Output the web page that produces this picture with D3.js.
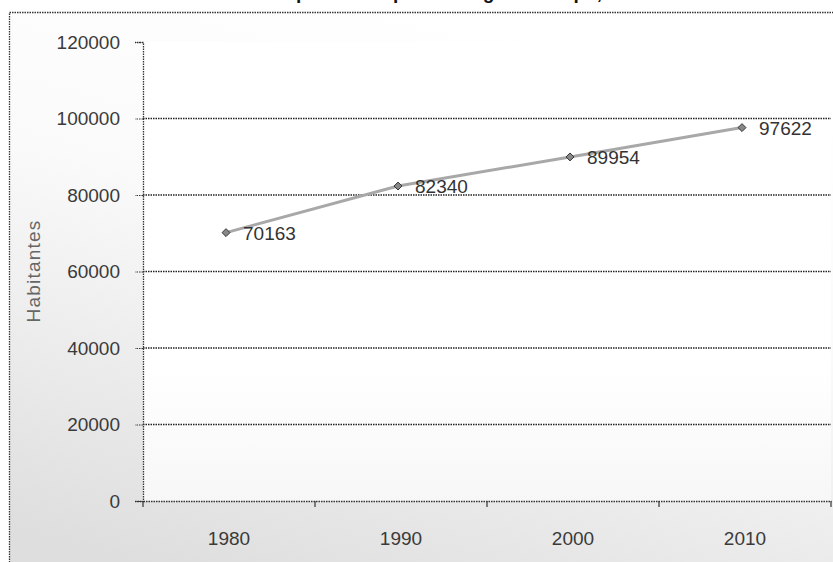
<!DOCTYPE html>
<html><head><meta charset="utf-8">
<script src="https://cdn.jsdelivr.net/npm/d3@7/dist/d3.min.js"></script>
<style>body{margin:0;background:#fff;overflow:hidden}</style>
</head><body>
<svg id="c" width="833" height="562"></svg>
<script>
const years = ["1980", "1990", "2000", "2010"];
const population = [70163, 82340, 89954, 97622];
const yTicks = [0, 20000, 40000, 60000, 80000, 100000, 120000];
const yTitle = "Habitantes";
const chartTitle = "Número de habitantes por município ao longo do tempo, 1980-2010";

const FONT = "Liberation Sans, Arial, sans-serif";
const svg = d3.select("#c");
const defs = svg.append("defs");
const grad = defs.append("linearGradient").attr("id","bg").attr("x1","0.6").attr("y1","0").attr("x2","0.2").attr("y2","1");
grad.append("stop").attr("offset","0").attr("stop-color","#ffffff");
grad.append("stop").attr("offset","0.4").attr("stop-color","#fafafa");
grad.append("stop").attr("offset","1").attr("stop-color","#dedede");
const grad2 = defs.append("linearGradient").attr("id","pbg").attr("x1","0").attr("y1","0").attr("x2","0").attr("y2","1");
grad2.append("stop").attr("offset","0").attr("stop-color","#ffffff");
grad2.append("stop").attr("offset","0.7").attr("stop-color","#ffffff");
grad2.append("stop").attr("offset","1").attr("stop-color","#f7f7f7");

// chart area
svg.append("rect").attr("x",9.5).attr("y",12.5).attr("width",840).attr("height",560)
  .attr("fill","url(#bg)").attr("stroke","#333").attr("stroke-width",1.3).attr("stroke-dasharray","1.5,1");

// title (cut off at the top edge as in the original: only descenders show)
const title = svg.append("text").attr("x",92).attr("y",-1).attr("text-anchor","start")
  .attr("font-family",FONT).attr("font-weight","bold")
  .attr("font-size",19).attr("fill","#111").text(chartTitle);
try {
  const p0 = title.node().getStartPositionOfChar(chartTitle.indexOf("por")).x;
  title.attr("x", 92 + (296 - p0));
} catch (e) {}

const pLeft = 143, pRight = 831, pTop = 42, pBottom = 501;
const x = d3.scaleBand().domain(years).range([pLeft, pRight]);
const y = d3.scaleLinear().domain([0, 120000]).range([pBottom, pTop]);

// plot area
svg.append("rect").attr("x",pLeft).attr("y",pTop).attr("width",pRight-pLeft).attr("height",pBottom-pTop).attr("fill","url(#pbg)");

// gridlines
svg.append("g").selectAll("line").data(yTicks.filter(d => d > 0 && d < 120000)).join("line")
  .attr("x1",pLeft).attr("x2",pRight).attr("y1",d=>y(d)).attr("y2",d=>y(d))
  .attr("stroke","#222").attr("stroke-width",1.3).attr("stroke-dasharray","1.5,1");

// y axis
const yAxis = svg.append("g").attr("transform",`translate(${pLeft},0)`)
  .call(d3.axisLeft(y).tickValues(yTicks).tickSize(8).tickPadding(15).tickFormat(d3.format("d")));
yAxis.select(".domain").attr("stroke","#333").attr("stroke-width",1.3).attr("stroke-dasharray","1.5,1");
yAxis.selectAll(".tick line").attr("stroke","#333").attr("stroke-dasharray","1.5,1");
yAxis.selectAll("text").attr("font-family",FONT).attr("font-size",19).attr("fill","#3a3a3a");

// x axis
const xAxis = svg.append("g").attr("transform",`translate(0,${pBottom})`)
  .call(d3.axisBottom(x).tickSize(0).tickPadding(31));
xAxis.select(".domain").attr("stroke","#333").attr("stroke-width",1.3).attr("stroke-dasharray","1.5,1");
xAxis.selectAll("text").attr("font-family",FONT).attr("font-size",19).attr("fill","#3a3a3a");
// boundary ticks between categories
const bounds = years.map(d => x(d)).concat([pRight]);
svg.append("g").selectAll("line").data(bounds).join("line")
  .attr("x1",d=>d).attr("x2",d=>d).attr("y1",pBottom).attr("y2",pBottom+6)
  .attr("stroke","#333").attr("stroke-width",1.2);

// y title
svg.append("text").attr("transform",`translate(40,271) rotate(-90)`)
  .attr("text-anchor","middle").attr("font-family",FONT).attr("letter-spacing",1.2)
  .attr("font-size",19).attr("fill","#666").text(yTitle);

// series
const pts = years.map((yr,i) => ({yr, v: population[i]}));
const cx = d => x(d.yr) + x.bandwidth()/2 - 3;
svg.append("path").datum(pts)
  .attr("d", d3.line().x(cx).y(d=>y(d.v)))
  .attr("fill","none").attr("stroke","#a8a8a8").attr("stroke-width",3);
svg.append("g").selectAll("path").data(pts).join("path")
  .attr("transform", d=>`translate(${cx(d)},${y(d.v)})`)
  .attr("d", d3.symbol(d3.symbolDiamond2, 40))
  .attr("fill","#888").attr("stroke","#333").attr("stroke-width",1);
svg.append("g").selectAll("text").data(pts).join("text")
  .attr("x", d=>cx(d)+17).attr("y", d=>y(d.v)+7)
  .attr("font-family",FONT).attr("font-size",19).attr("fill","#333")
  .text(d=>d.v);
</script>
</body></html>
